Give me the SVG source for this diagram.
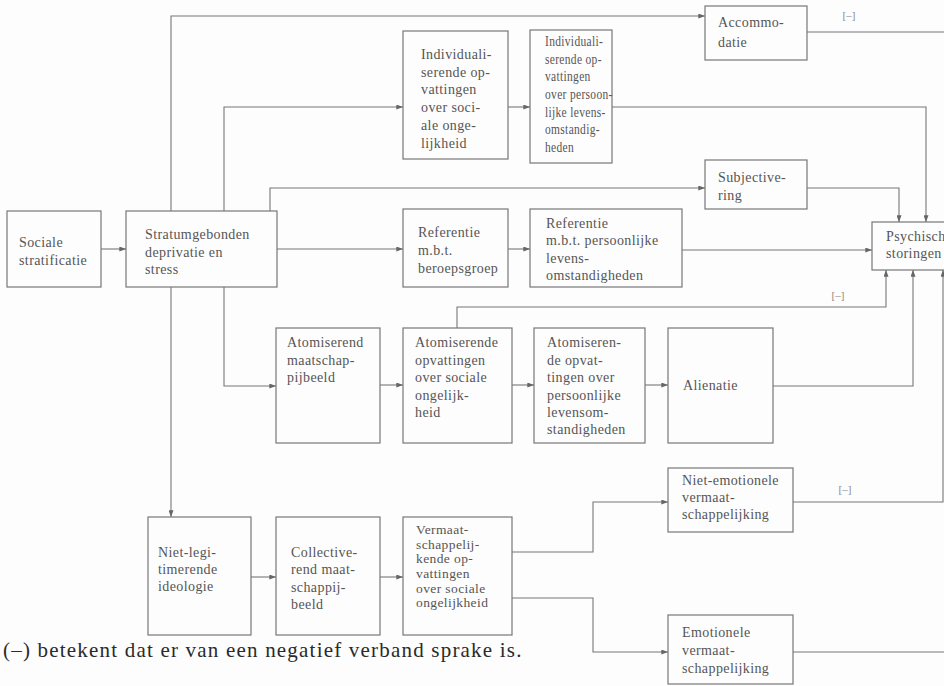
<svg xmlns="http://www.w3.org/2000/svg" width="944" height="686" viewBox="0 0 944 686">
<defs>
<style>
.bx{fill:none;stroke:#777;stroke-width:1.2}
.t{font-family:"Liberation Serif",serif;font-size:14px;fill:#555;letter-spacing:0.4px}
.c{fill:none;stroke:#777;stroke-width:1.1}
.neg{font-family:"Liberation Serif",serif;font-size:11px;fill:#888;text-anchor:middle}
.cap{font-family:"Liberation Serif",serif;font-size:21px;fill:#2a2a2a;letter-spacing:1.2px}
</style>
<marker id="ah" viewBox="0 0 8 6" refX="8" refY="3" markerWidth="7" markerHeight="5" orient="auto" markerUnits="userSpaceOnUse">
<path d="M0,0 L8,3 L0,6 z" fill="#666"/>
</marker>
</defs>
<rect x="0" y="0" width="944" height="686" fill="#fdfdfd"/>

<g id="connectors">
<path class="c" d="M101,249 H126" marker-end="url(#ah)"/>
<path class="c" d="M171,211 V16 H705" marker-end="url(#ah)"/>
<path class="c" d="M224,211 V107 H403" marker-end="url(#ah)"/>
<path class="c" d="M270,211 V188 H705" marker-end="url(#ah)"/>
<path class="c" d="M277,249 H403" marker-end="url(#ah)"/>
<path class="c" d="M171,287 V517" marker-end="url(#ah)"/>
<path class="c" d="M224,287 V386 H276" marker-end="url(#ah)"/>
<path class="c" d="M508,107 H530" marker-end="url(#ah)"/>
<path class="c" d="M612,107 H926 V222" marker-end="url(#ah)"/>
<path class="c" d="M807,32 H944"/>
<path class="c" d="M807,188 H899 V222" marker-end="url(#ah)"/>
<path class="c" d="M508,249 H530" marker-end="url(#ah)"/>
<path class="c" d="M682,250 H872" marker-end="url(#ah)"/>
<path class="c" d="M457,328 V307 H886 V270" marker-end="url(#ah)"/>
<path class="c" d="M380,385 H403" marker-end="url(#ah)"/>
<path class="c" d="M512,385 H534" marker-end="url(#ah)"/>
<path class="c" d="M645,385 H668" marker-end="url(#ah)"/>
<path class="c" d="M773,386 H913 V270" marker-end="url(#ah)"/>
<path class="c" d="M251,577 H276" marker-end="url(#ah)"/>
<path class="c" d="M380,577 H403" marker-end="url(#ah)"/>
<path class="c" d="M512,552 H593 V502 H668" marker-end="url(#ah)"/>
<path class="c" d="M512,598 H593 V652 H668" marker-end="url(#ah)"/>
<path class="c" d="M793,502 H943 V270" marker-end="url(#ah)"/>
<path class="c" d="M793,652 H944"/>
<text class="neg" x="849" y="19">[–]</text>
<text class="neg" x="838" y="299">[–]</text>
<text class="neg" x="845" y="493">[–]</text>
</g>

<g id="sociale-stratificatie">
<rect class="bx" x="7" y="211" width="94" height="76"/>
<text class="t"><tspan x="19" y="247">Sociale</tspan><tspan x="19" y="265">stratificatie</tspan></text>
</g>
<g id="stratumgebonden">
<rect class="bx" x="126" y="211" width="151" height="76"/>
<text class="t"><tspan x="145" y="239">Stratumgebonden</tspan><tspan x="145" y="257">deprivatie en</tspan><tspan x="145" y="274">stress</tspan></text>
</g>
<g id="individualiserende-sociale">
<rect class="bx" x="403" y="31" width="105" height="128"/>
<text class="t"><tspan x="421" y="59">Individuali-</tspan><tspan x="421" y="77">serende op-</tspan><tspan x="421" y="94">vattingen</tspan><tspan x="421" y="112">over soci-</tspan><tspan x="421" y="130">ale onge-</tspan><tspan x="421" y="148">lijkheid</tspan></text>
</g>
<g id="individualiserende-persoonlijke">
<rect class="bx" x="530" y="30" width="82" height="133"/>
<text class="t" transform="translate(545 0) scale(0.82 1)"><tspan x="0" y="46">Individuali-</tspan><tspan x="0" y="64">serende op-</tspan><tspan x="0" y="81">vattingen</tspan><tspan x="0" y="99">over persoon-</tspan><tspan x="0" y="117">lijke levens-</tspan><tspan x="0" y="134">omstandig-</tspan><tspan x="0" y="152">heden</tspan></text>
</g>
<g id="accommodatie">
<rect class="bx" x="705" y="6" width="102" height="54"/>
<text class="t"><tspan x="718" y="27">Accommo-</tspan><tspan x="718" y="47">datie</tspan></text>
</g>
<g id="subjectivering">
<rect class="bx" x="705" y="160" width="102" height="49"/>
<text class="t"><tspan x="718" y="182">Subjective-</tspan><tspan x="718" y="200">ring</tspan></text>
</g>
<g id="psychische-storingen">
<rect class="bx" x="872" y="222" width="90" height="48"/>
<text class="t"><tspan x="886" y="241">Psychische</tspan><tspan x="886" y="258">storingen</tspan></text>
</g>
<g id="referentie-beroepsgroep">
<rect class="bx" x="403" y="209" width="105" height="78"/>
<text class="t"><tspan x="418" y="237">Referentie</tspan><tspan x="418" y="255">m.b.t.</tspan><tspan x="418" y="273">beroepsgroep</tspan></text>
</g>
<g id="referentie-persoonlijke">
<rect class="bx" x="530" y="209" width="152" height="78"/>
<text class="t"><tspan x="546" y="228">Referentie</tspan><tspan x="546" y="245">m.b.t. persoonlijke</tspan><tspan x="546" y="263">levens-</tspan><tspan x="546" y="280">omstandigheden</tspan></text>
</g>
<g id="atomiserend-maatschappijbeeld">
<rect class="bx" x="276" y="328" width="104" height="115"/>
<text class="t"><tspan x="287" y="347">Atomiserend</tspan><tspan x="287" y="365">maatschap-</tspan><tspan x="287" y="382">pijbeeld</tspan></text>
</g>
<g id="atomiserende-sociale">
<rect class="bx" x="403" y="328" width="109" height="115"/>
<text class="t"><tspan x="415" y="347">Atomiserende</tspan><tspan x="415" y="365">opvattingen</tspan><tspan x="415" y="382">over sociale</tspan><tspan x="415" y="400">ongelijk-</tspan><tspan x="415" y="417">heid</tspan></text>
</g>
<g id="atomiserende-persoonlijke">
<rect class="bx" x="534" y="328" width="111" height="115"/>
<text class="t"><tspan x="547" y="347">Atomiseren-</tspan><tspan x="547" y="365">de opvat-</tspan><tspan x="547" y="382">tingen over</tspan><tspan x="547" y="400">persoonlijke</tspan><tspan x="547" y="417">levensom-</tspan><tspan x="547" y="434">standigheden</tspan></text>
</g>
<g id="alienatie">
<rect class="bx" x="668" y="328" width="105" height="115"/>
<text class="t" x="683" y="390">Alienatie</text>
</g>
<g id="niet-emotionele">
<rect class="bx" x="668" y="468" width="125" height="64"/>
<text class="t"><tspan x="682" y="485">Niet-emotionele</tspan><tspan x="682" y="502">vermaat-</tspan><tspan x="682" y="519">schappelijking</tspan></text>
</g>
<g id="emotionele">
<rect class="bx" x="668" y="615" width="125" height="69"/>
<text class="t"><tspan x="682" y="637">Emotionele</tspan><tspan x="682" y="655">vermaat-</tspan><tspan x="682" y="673">schappelijking</tspan></text>
</g>
<g id="niet-legitimerende">
<rect class="bx" x="148" y="517" width="103" height="118"/>
<text class="t"><tspan x="158" y="557">Niet-legi-</tspan><tspan x="158" y="574">timerende</tspan><tspan x="158" y="591">ideologie</tspan></text>
</g>
<g id="collectiverend">
<rect class="bx" x="276" y="517" width="104" height="118"/>
<text class="t"><tspan x="291" y="557">Collective-</tspan><tspan x="291" y="574">rend maat-</tspan><tspan x="291" y="592">schappij-</tspan><tspan x="291" y="609">beeld</tspan></text>
</g>
<g id="vermaatschappelijkende">
<rect class="bx" x="403" y="517" width="109" height="118"/>
<text class="t" style="font-size:13.5px"><tspan x="416" y="534">Vermaat-</tspan><tspan x="416" y="549">schappelij-</tspan><tspan x="416" y="563">kende op-</tspan><tspan x="416" y="578">vattingen</tspan><tspan x="416" y="593">over sociale</tspan><tspan x="416" y="607">ongelijkheid</tspan></text>
</g>

<text class="cap" x="3" y="657">(–) betekent dat er van een negatief verband sprake is.</text>
</svg>
